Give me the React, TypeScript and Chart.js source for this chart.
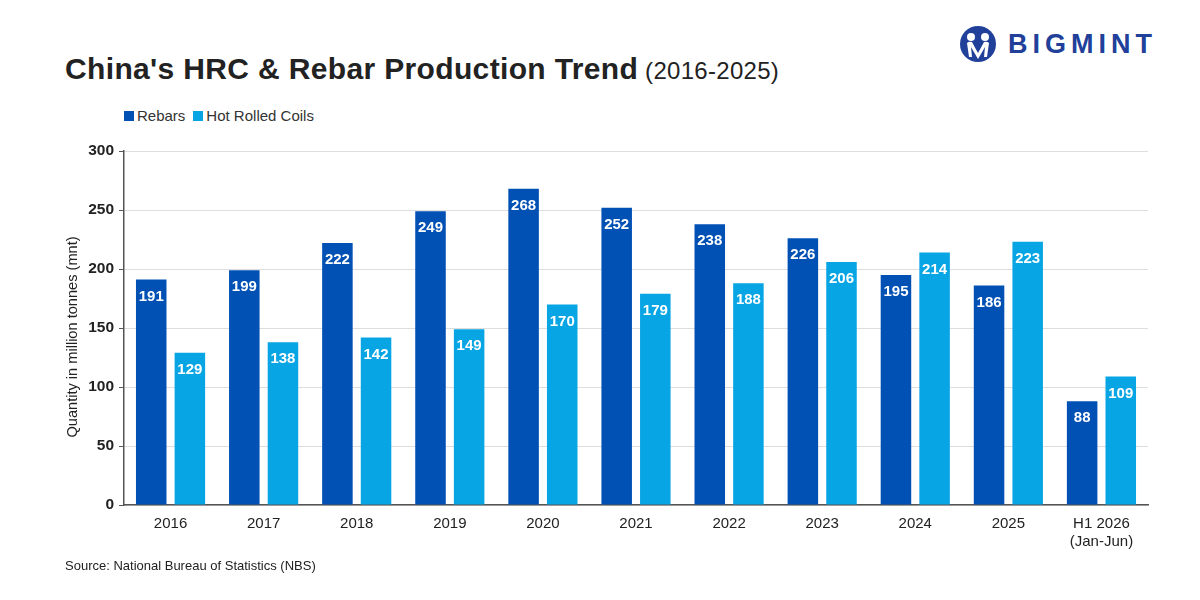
import React, { useEffect, useRef } from "react";
import { Chart, registerables } from "chart.js";

Chart.register(...registerables);

const categories: (string | string[])[] = [
  "2016", "2017", "2018", "2019", "2020", "2021", "2022", "2023", "2024", "2025",
  ["H1 2026", "(Jan-Jun)"],
];
const rebars = [191, 199, 222, 249, 268, 252, 238, 226, 195, 186, 88];
const hrc = [129, 138, 142, 149, 170, 179, 188, 206, 214, 223, 109];
const yTicks = { min: 0, max: 300, step: 50 };
const seriesNames = ["Rebars", "Hot Rolled Coils"];
const yTitle = "Quantity in million tonnes (mnt)";

const REBAR_COLOR = "#0150B4";
const HRC_COLOR = "#08A5E4";
const FONT = "'Liberation Sans', Arial, sans-serif";

const valueLabels = {
  id: "valueLabels",
  afterDatasetsDraw(chart: any) {
    const ctx = chart.ctx;
    ctx.save();
    ctx.fillStyle = "#ffffff";
    ctx.font = `bold 15px ${FONT}`;
    ctx.textAlign = "center";
    ctx.textBaseline = "middle";
    chart.data.datasets.forEach((ds: any, i: number) => {
      const meta = chart.getDatasetMeta(i);
      meta.data.forEach((el: any, j: number) => {
        ctx.fillText(String(ds.data[j]), el.x, el.y + 17);
      });
    });
    ctx.restore();
  },
};

const yTitlePlugin = {
  id: "yTitlePlugin",
  afterDraw(chart: any) {
    const ctx = chart.ctx;
    const area = chart.chartArea;
    ctx.save();
    ctx.translate(73, (area.top + area.bottom) / 2 + 9);
    ctx.rotate(-Math.PI / 2);
    ctx.fillStyle = "#222";
    ctx.font = `14.6px ${FONT}`;
    ctx.textAlign = "center";
    ctx.textBaseline = "middle";
    ctx.fillText(yTitle, 0, 0);
    ctx.restore();
  },
};

function Logo() {
  return (
    <div style={{ position: "absolute", left: 960, top: 26, display: "flex", alignItems: "center" }}>
      <svg width="36" height="36" viewBox="0 0 36 36">
        <circle cx="18" cy="18" r="18" fill="#21409A" />
        <circle cx="11" cy="11" r="4" fill="#fff" />
        <circle cx="25" cy="11" r="4" fill="#fff" />
        <path d="M7 17 Q9 15 12 16 L18 27 L24 16 Q27 15 29 17 L27 31 L24 31 L25 21 L18 33 L11 21 L12 31 L9 31 Z" fill="#fff" />
        <path d="M13 17 L18 26 L23 17 Z" fill="#21409A" />
      </svg>
      <span
        style={{
          marginLeft: 12,
          fontFamily: FONT,
          fontWeight: 700,
          fontSize: 27,
          letterSpacing: 5,
          color: "#21409A",
        }}
      >
        BIGMINT
      </span>
    </div>
  );
}

function Legend() {
  const colors = [REBAR_COLOR, HRC_COLOR];
  return (
    <div
      style={{
        position: "absolute",
        left: 124,
        top: 107,
        display: "flex",
        alignItems: "center",
        fontFamily: FONT,
        fontSize: 15,
        color: "#333",
        lineHeight: "18px",
      }}
    >
      {seriesNames.map((n, i) => (
        <span key={n} style={{ display: "flex", alignItems: "center", marginRight: 8 }}>
          <span style={{ display: "inline-block", width: 10, height: 10, background: colors[i], marginRight: 3 }} />
          {n}
        </span>
      ))}
    </div>
  );
}

export default function App() {
  const canvasRef = useRef<HTMLCanvasElement | null>(null);

  useEffect(() => {
    if (!canvasRef.current) return;
    const chart = new Chart(canvasRef.current, {
      type: "bar",
      data: {
        labels: categories,
        datasets: [
          { label: seriesNames[0], data: rebars, backgroundColor: REBAR_COLOR, borderWidth: 0 },
          { label: seriesNames[1], data: hrc, backgroundColor: HRC_COLOR, borderWidth: 0 },
        ],
      },
      options: {
        animation: false,
        responsive: false,
        maintainAspectRatio: false,
        layout: { padding: { top: 151, right: 52, bottom: 39, left: 0 } },
        datasets: { bar: { categoryPercentage: 0.83, barPercentage: 0.79 } },
        plugins: {
          legend: { display: false },
          tooltip: { enabled: false },
          title: { display: false },
        },
        scales: {
          x: {
            grid: { display: false, drawTicks: false },
            border: { color: "#555", width: 1.5 },
            ticks: {
              color: "#222",
              font: { family: FONT, size: 15 },
              padding: 10,
              maxRotation: 0,
              autoSkip: false,
            },
          },
          y: {
            min: yTicks.min,
            max: yTicks.max,
            afterFit: (scale: any) => {
              scale.width = 124;
            },
            grid: { color: "#dddddd", tickColor: "#555", tickLength: 5, lineWidth: 1 },
            border: { color: "#555", width: 1.5 },
            ticks: {
              stepSize: yTicks.step,
              color: "#222",
              font: { family: FONT, size: 15.5, weight: "bold" },
              padding: 5,
            },
          },
        },
      },
      plugins: [valueLabels, yTitlePlugin],
    });
    return () => chart.destroy();
  }, []);

  return (
    <div style={{ position: "fixed", left: 0, top: 0, width: 1200, height: 600, background: "#fff", overflow: "hidden" }}>
      <div
        style={{
          position: "absolute",
          left: 65,
          top: 52,
          fontFamily: FONT,
          color: "#222",
          whiteSpace: "nowrap",
        }}
      >
        <span style={{ fontWeight: 700, fontSize: 30, letterSpacing: 0.35 }}>China's HRC &amp; Rebar Production Trend</span>
        <span style={{ fontSize: 24, letterSpacing: 0.3 }}> (2016-2025)</span>
      </div>
      <Logo />
      <Legend />
      <canvas ref={canvasRef} width={1200} height={600} style={{ position: "absolute", left: 0, top: 0 }} />
      <div
        style={{
          position: "absolute",
          left: 65,
          top: 558,
          fontFamily: FONT,
          fontSize: 13,
          color: "#222",
        }}
      >
        Source: National Bureau of Statistics (NBS)
      </div>
    </div>
  );
}
